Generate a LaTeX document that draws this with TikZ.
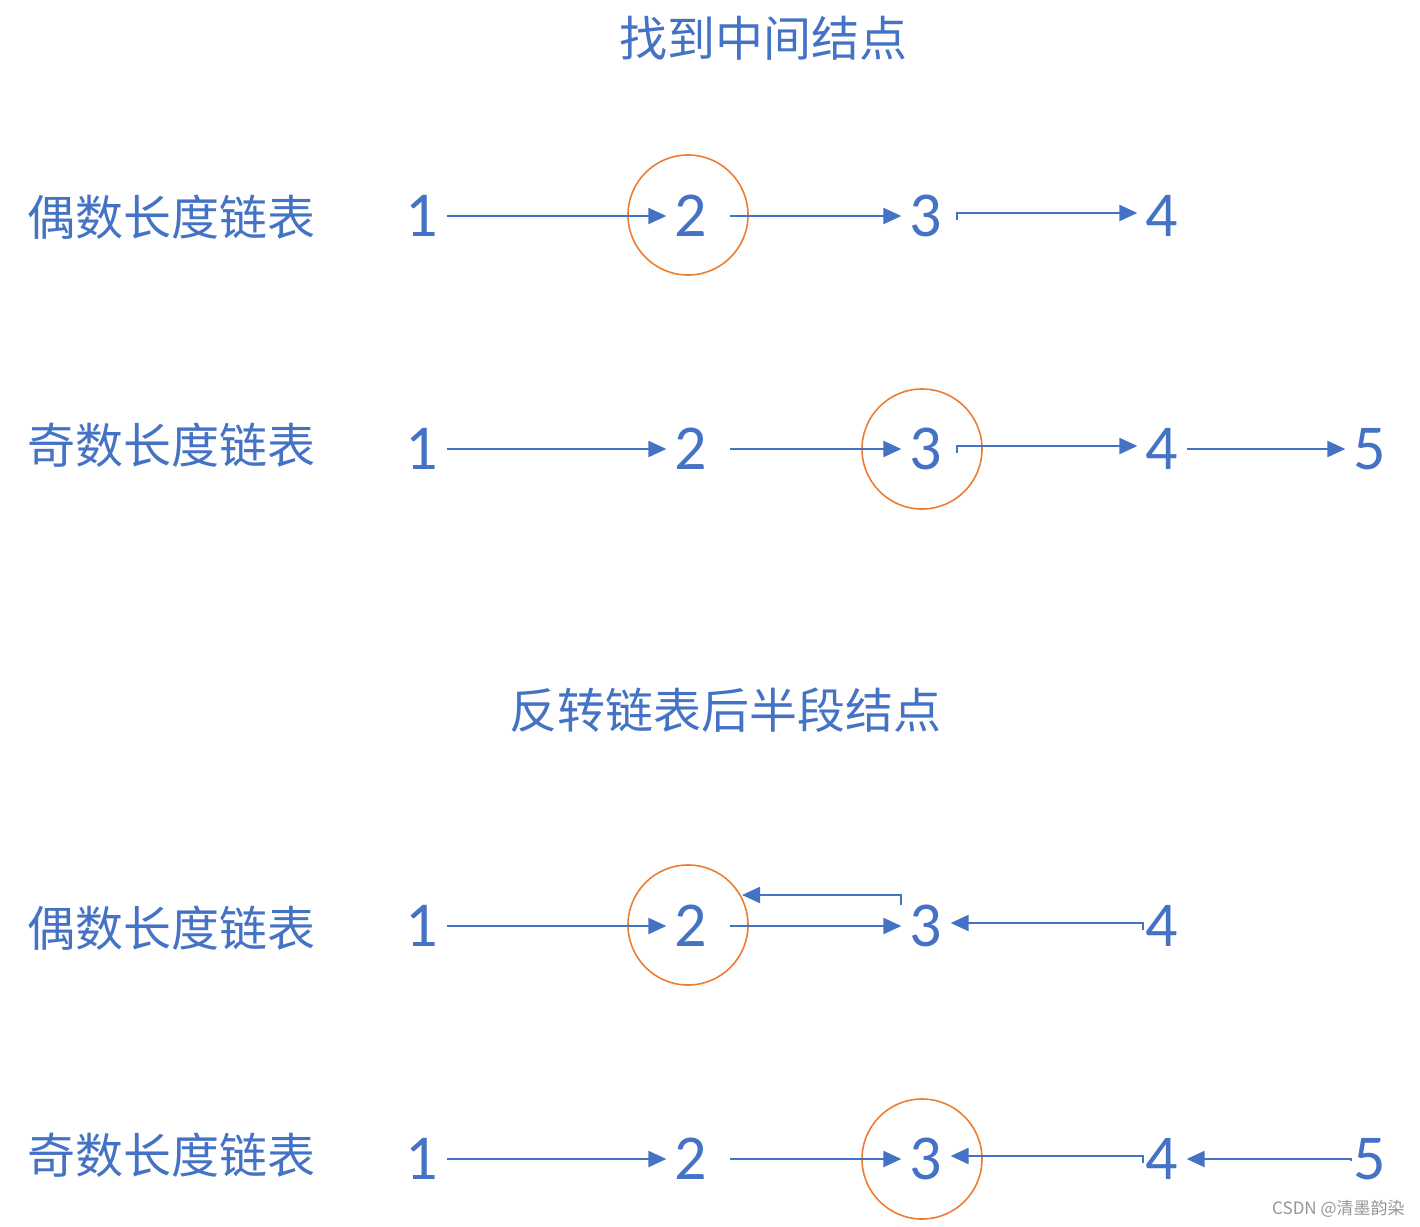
\documentclass[tikz,border=0pt]{standalone}
\usepackage{fontspec}
\setmainfont{Carlito}
\newfontfamily\cjk{Noto Sans CJK SC}
\usepackage{tikz}
\usetikzlibrary{arrows.meta,positioning,calc}
\definecolor{nodeblue}{RGB}{68, 114, 196}
\definecolor{markorange}{RGB}{237, 125, 49}
\definecolor{stampgray}{RGB}{150, 150, 150}
\tikzset{
  num/.style={nodeblue,font=\fontsize{32}{36}\selectfont,inner sep=4pt},
  rowname/.style={nodeblue,font=\cjk\fontsize{24}{28}\selectfont,anchor=west,inner sep=0pt},
  heading/.style={nodeblue,font=\cjk\fontsize{24}{28}\selectfont,inner sep=0pt},
  link/.style={nodeblue,line width=1.1pt,-{Triangle[length=9pt,width=8pt]}},
  midmark/.style={draw=markorange,line width=0.8pt,circle,minimum size=60pt,inner sep=0pt}
}

\begin{document}
\begin{tikzpicture}[x=0.5pt,y=-0.5pt]
    \useasboundingbox (0,0) rectangle (1420,1227);

    % Part 1: find the middle node
    \node[heading] (find) at (763,38) {找到中间结点};

    % even length list
    \node[rowname] (evenA) at (27,217) {偶数长度链表};
    \node[num] (e1) at (422,216) {1};
    \node[num] (e2) at (691,216) {2};
    \node[num] (e3) at (926,216) {3};
    \node[num] (e4) at (1162,216) {4};
    \node[midmark] (m1) at (688,215) {};
    \draw[link] (e1) -- (e2);
    \draw[link,shorten <=7pt] (e2) -- (e3);
    \draw[link] ([xshift=3pt,yshift=-2pt]e3.east) |- ([yshift=1.5pt]e4.west);

    % odd length list
    \node[rowname] (oddA) at (27,445) {奇数长度链表};
    \node[num] (o1) at (422,449) {1};
    \node[num] (o2) at (691,449) {2};
    \node[num] (o3) at (926,449) {3};
    \node[num] (o4) at (1162,449) {4};
    \node[num] (o5) at (1370,449) {5};
    \node[midmark] (m2) at (922,449) {};
    \draw[link] (o1) -- (o2);
    \draw[link,shorten <=7pt] (o2) -- (o3);
    \draw[link] ([xshift=3pt,yshift=-2pt]o3.east) |- ([yshift=1.5pt]o4.west);
    \draw[link] (o4) -- (o5);

    % Part 2: reverse the second half
    \node[heading] (flip) at (725,710) {反转链表后半段结点};

    % even length list
    \node[rowname] (evenB) at (27,928) {偶数长度链表};
    \node[num] (r1) at (422,926) {1};
    \node[num] (r2) at (691,926) {2};
    \node[num] (r3) at (926,926) {3};
    \node[num] (r4) at (1162,926) {4};
    \node[midmark] (m3) at (688,925) {};
    \coordinate (back) at (742,895);
    \draw[link] (r1) -- (r2);
    \draw[link,shorten <=7pt] (r2) -- (r3);
    \draw[link] ([yshift=-4pt]r3.north west) |- (back);
    \draw[link] ([xshift=3pt,yshift=-2pt]r4.west) |- ([yshift=1.5pt]r3.east);

    % odd length list
    \node[rowname] (oddB) at (27,1155) {奇数长度链表};
    \node[num] (s1) at (422,1159) {1};
    \node[num] (s2) at (691,1159) {2};
    \node[num] (s3) at (926,1159) {3};
    \node[num] (s4) at (1162,1159) {4};
    \node[num] (s5) at (1370,1159) {5};
    \node[midmark] (m4) at (922,1159) {};
    \draw[link] (s1) -- (s2);
    \draw[link,shorten <=7pt] (s2) -- (s3);
    \draw[link] ([xshift=3pt,yshift=-2pt]s4.west) |- ([yshift=1.5pt]s3.east);
    \draw[link] ([xshift=3pt,yshift=-1pt]s5.west) |- (s4.east);

    \node[stampgray,font=\cjk\fontsize{8.5}{10}\selectfont,anchor=east,inner sep=0pt] (stamp) at (1405,1209) {CSDN @清墨韵染};
\end{tikzpicture}
\end{document}
